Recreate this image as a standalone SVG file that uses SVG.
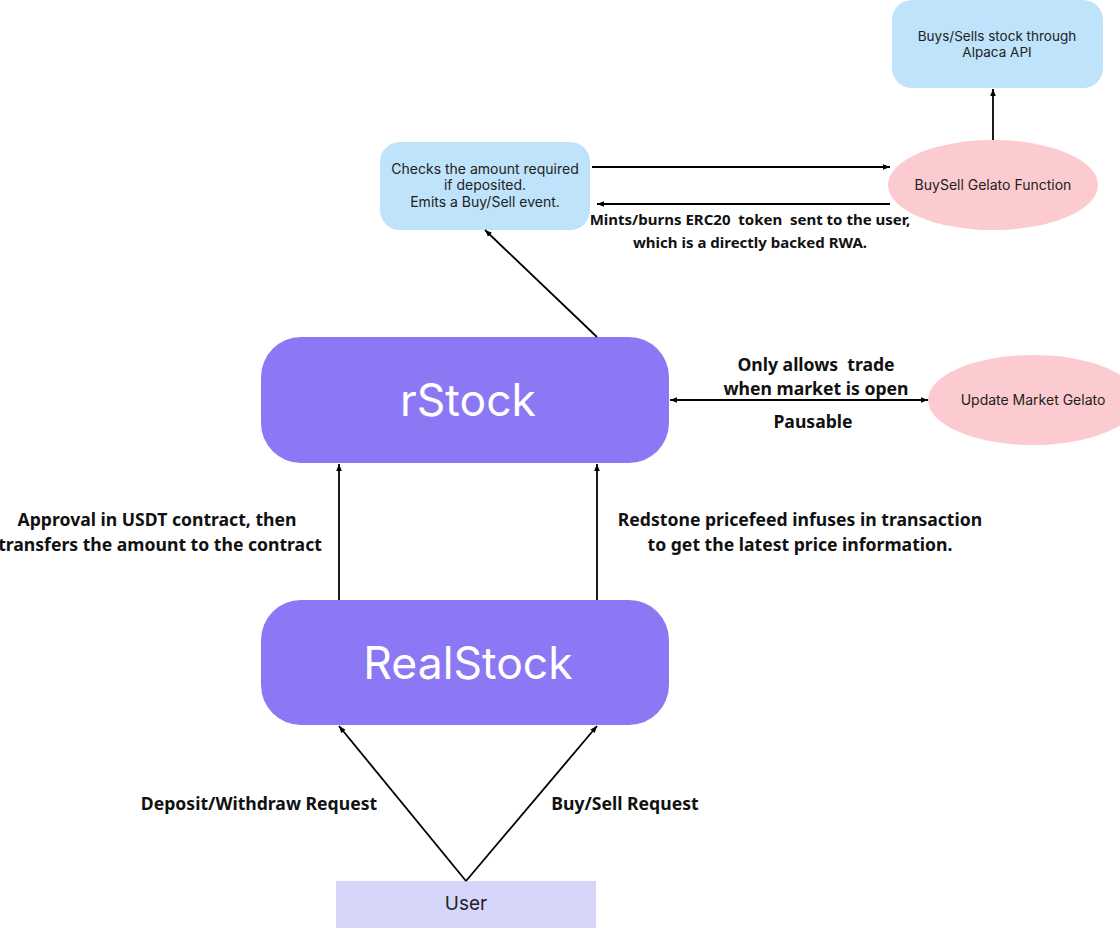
<svg xmlns="http://www.w3.org/2000/svg" width="1120" height="928" viewBox="0 0 1120 928">
<defs>
<marker id="ah" viewBox="0 0 10 10" refX="10" refY="5" markerWidth="7" markerHeight="7" markerUnits="userSpaceOnUse" orient="auto-start-reverse">
<path d="M0,1 L10,5 L0,9 z" fill="#000"/>
</marker>
<style>
.big{fill:#8C78F4}
.blue{fill:#BEE3FA}
.pink{fill:#FCCBD0}
.user{fill:#D6D6FA}
.nt{font-family:Inter,"Open Sans","Noto Sans",sans-serif;fill:#222;text-anchor:middle}
.bt{font-family:Inter,"Open Sans","Noto Sans",sans-serif;fill:#fff;text-anchor:middle;font-size:44.5px}
.lbl{font-family:"Noto Sans","Open Sans",sans-serif;font-weight:bold;fill:#111;text-anchor:middle;font-size:17.6px;white-space:pre}
.sm{font-size:15px}
.c{stroke:#000;stroke-width:1.8;fill:none}
</style>
</defs>
<rect width="1120" height="928" fill="#fff"/>
<g id="alpaca">
<rect class="blue" x="892" y="0" width="211" height="88" rx="20"/>
<text class="nt" font-size="13.5" x="997" y="41">Buys/Sells stock through</text>
<text class="nt" font-size="13.5" x="997" y="57">Alpaca API</text>
</g>
<g id="checks">
<rect class="blue" x="380" y="142" width="210" height="88" rx="20"/>
<text class="nt" font-size="14" x="485" y="174">Checks the amount required</text>
<text class="nt" font-size="14" x="485" y="190">if deposited.</text>
<text class="nt" font-size="14" x="485" y="207">Emits a Buy/Sell event.</text>
</g>
<g id="buysell">
<ellipse class="pink" cx="993" cy="185" rx="105" ry="45"/>
<text class="nt" font-size="14" x="993" y="190">BuySell Gelato Function</text>
</g>
<g id="update">
<ellipse class="pink" cx="1033" cy="400" rx="105" ry="45"/>
<text class="nt" font-size="14" x="1033" y="405">Update Market Gelato</text>
</g>
<g id="rstock">
<rect class="big" x="261" y="337" width="408" height="126" rx="40"/>
<text class="bt" x="468" y="416">rStock</text>
</g>
<g id="realstock">
<rect class="big" x="261" y="600" width="408" height="125" rx="40"/>
<text class="bt" x="468" y="679">RealStock</text>
</g>
<g id="user">
<rect class="user" x="336" y="881" width="260" height="47"/>
<text class="nt" font-size="19" x="466" y="910">User</text>
</g>
<g id="connectors">
<line class="c" x1="592" y1="167" x2="890" y2="167" marker-end="url(#ah)"/>
<line class="c" x1="890" y1="204" x2="597" y2="204" stroke-width="2.4" marker-end="url(#ah)"/>
<line class="c" x1="993" y1="140" x2="993" y2="89" marker-end="url(#ah)"/>
<line class="c" x1="597" y1="337" x2="485" y2="230" marker-end="url(#ah)"/>
<line class="c" x1="670" y1="400" x2="928" y2="400" marker-start="url(#ah)" marker-end="url(#ah)"/>
<line class="c" x1="339" y1="600" x2="339" y2="464" stroke-width="2.2" marker-end="url(#ah)"/>
<line class="c" x1="597" y1="600" x2="597" y2="464" marker-end="url(#ah)"/>
<line class="c" x1="466" y1="881" x2="339" y2="726" marker-end="url(#ah)"/>
<line class="c" x1="466" y1="881" x2="597" y2="726" marker-end="url(#ah)"/>
<text class="lbl sm" x="750" y="225" xml:space="preserve">Mints/burns ERC20  token  sent to the user,</text>
<text class="lbl sm" x="750" y="248">which is a directly backed RWA.</text>
<text class="lbl" x="816" y="371" xml:space="preserve">Only allows  trade</text>
<text class="lbl" x="816" y="395">when market is open</text>
<text class="lbl" x="813" y="428">Pausable</text>
<text class="lbl" x="157" y="526">Approval in USDT contract, then</text>
<text class="lbl" x="160" y="551" font-size="17.2">transfers the amount to the contract</text>
<text class="lbl" x="800" y="526">Redstone pricefeed infuses in transaction</text>
<text class="lbl" x="800" y="551">to get the latest price information.</text>
<text class="lbl" x="259" y="810">Deposit/Withdraw Request</text>
<text class="lbl" x="625" y="810">Buy/Sell Request</text>
</g>
</svg>
